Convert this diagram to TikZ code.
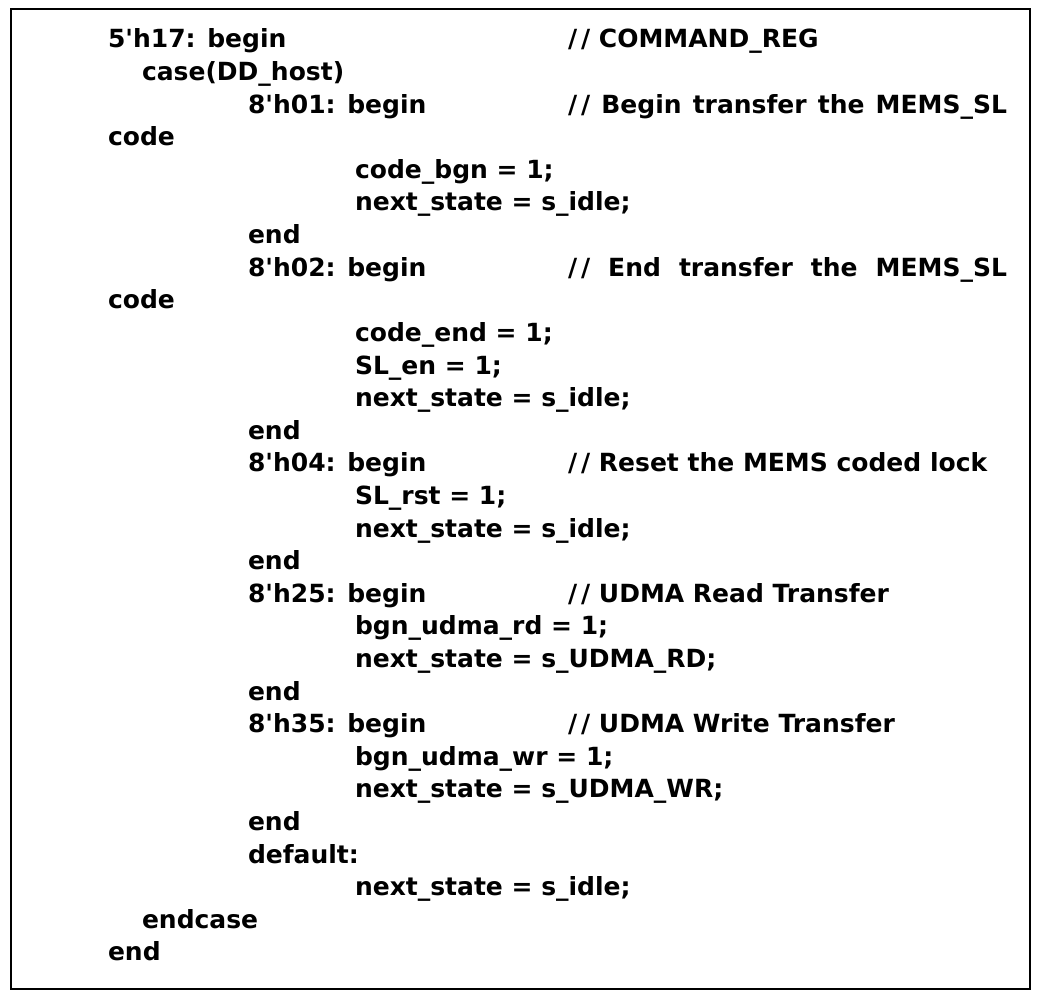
\documentclass[tikz,border=0pt]{standalone}
\usepackage{fontspec}
\newfontfamily\codefont{DejaVu Sans Bold}
\newcommand\slsl{/\kern4pt/}
\begin{document}
\begin{tikzpicture}[x=1pt,y=-1pt,
  codeline/.style={anchor=base west,inner sep=0pt,outer sep=0pt,font=\codefont\fontsize{25}{30}\selectfont},
  frame/.style={draw=black,line width=2.5pt}]
\useasboundingbox (0,0) rectangle (1042,1000);
\draw[frame] (11,9) rectangle (1030,989);
\def\colA{108}\def\colB{142}\def\colC{248}\def\colD{355}\def\colE{568}
\def\pitch{32.6}
\newcommand\cl[4]{\node[codeline] (#1) at (#2,{48+\pitch*#3}) {#4};}
\cl{l0}{\colA}{0}{5'h17: begin}
\cl{k0}{\colE}{0}{\slsl{} COMMAND\_REG}
\cl{l1}{\colB}{1}{case(DD\_host)}
\cl{l2}{\colC}{2}{8'h01: begin}
\cl{k2}{\colE}{2}{\makebox[439pt][s]{\slsl{} Begin transfer the MEMS\_SL}}
\cl{l3}{\colA}{3}{code}
\cl{l4}{\colD}{4}{code\_bgn = 1;}
\cl{l5}{\colD}{5}{next\_state = s\_idle;}
\cl{l6}{\colC}{6}{end}
\cl{l7}{\colC}{7}{8'h02: begin}
\cl{k7}{\colE}{7}{\makebox[439pt][s]{\slsl{} End transfer the MEMS\_SL}}
\cl{l8}{\colA}{8}{code}
\cl{l9}{\colD}{9}{code\_end = 1;}
\cl{l10}{\colD}{10}{SL\_en = 1;}
\cl{l11}{\colD}{11}{next\_state = s\_idle;}
\cl{l12}{\colC}{12}{end}
\cl{l13}{\colC}{13}{8'h04: begin}
\cl{k13}{\colE}{13}{\slsl{} Reset the MEMS coded lock}
\cl{l14}{\colD}{14}{SL\_rst = 1;}
\cl{l15}{\colD}{15}{next\_state = s\_idle;}
\cl{l16}{\colC}{16}{end}
\cl{l17}{\colC}{17}{8'h25: begin}
\cl{k17}{\colE}{17}{\slsl{} UDMA Read Transfer}
\cl{l18}{\colD}{18}{bgn\_udma\_rd = 1;}
\cl{l19}{\colD}{19}{next\_state = s\_UDMA\_RD;}
\cl{l20}{\colC}{20}{end}
\cl{l21}{\colC}{21}{8'h35: begin}
\cl{k21}{\colE}{21}{\slsl{} UDMA Write Transfer}
\cl{l22}{\colD}{22}{bgn\_udma\_wr = 1;}
\cl{l23}{\colD}{23}{next\_state = s\_UDMA\_WR;}
\cl{l24}{\colC}{24}{end}
\cl{l25}{\colC}{25}{default:}
\cl{l26}{\colD}{26}{next\_state = s\_idle;}
\cl{l27}{\colB}{27}{endcase}
\cl{l28}{\colA}{28}{end}
\end{tikzpicture}
\end{document}
